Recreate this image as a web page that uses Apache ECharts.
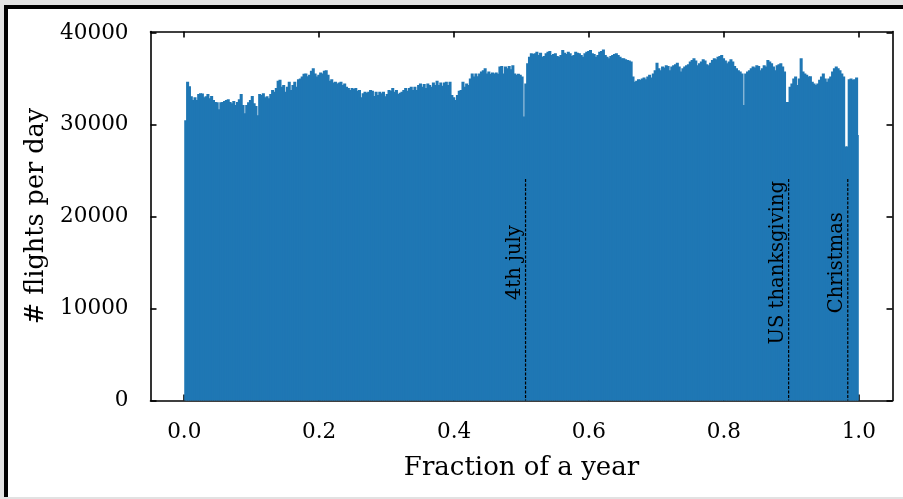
<!DOCTYPE html>
<html>
<head>
<meta charset="utf-8">
<script src="https://cdn.jsdelivr.net/npm/echarts@6/dist/echarts.min.js"></script>
<style>
  html, body { margin: 0; padding: 0; background: #e2e2e2; width: 903px; height: 499px; overflow: hidden; }
  #frame { position: absolute; left: 4px; top: 5px; width: 899px; height: 492px; box-sizing: border-box;
           border-left: 4px solid #000; border-top: 4px solid #000; background: #fff; }
  #chart { position: absolute; left: 0; top: 0; width: 903px; height: 499px; }
</style>
</head>
<body>
<div id="frame"></div>
<div id="chart"></div>
<script>
// Number of flights on each day of the year (one histogram bin per day)
const flightsPerDay = [
  30500, 34700, 34200, 33100, 32700, 33000, 32700, 33350, 33450, 33400,
  33000, 33100, 33350, 32900, 33150, 32700, 32500, 32450, 31700, 32450,
  32500, 32600, 32700, 32800, 32500, 32350, 32600, 32150, 32500, 32800,
  33350, 32150, 31250, 32150, 32450, 32700, 33150, 32350, 32050, 31050,
  33350, 33250, 33450, 33000, 33100, 32900, 33350, 33800, 33600, 34000,
  34800, 34900, 34150, 34350, 33600, 34150, 34700, 33800, 34350, 34700,
  34150, 34950, 35050, 35250, 35550, 35600, 35300, 35450, 35900, 36150,
  35600, 35250, 35450, 35700, 35600, 35900, 35950, 35450, 34800, 34950,
  34600, 34700, 34500, 34600, 34700, 34350, 34500, 34150, 34000, 33800,
  34000, 33900, 34000, 33700, 33800, 33000, 33450, 33600, 33500, 33600,
  33800, 33700, 33150, 33600, 33250, 33600, 33450, 33600, 33100, 33350,
  33800, 33700, 34000, 33600, 33800, 33350, 33500, 33600, 33800, 34000,
  33700, 34000, 34150, 33800, 34150, 33800, 34350, 34500, 34150, 34450,
  34000, 34500, 34350, 34150, 34600, 34350, 34800, 34350, 34600, 34250,
  34600, 34700, 34350, 34700, 33250, 33000, 32700, 33250, 33700, 33800,
  34700, 34150, 34500, 34350, 35050, 35600, 35250, 35600, 35300, 35600,
  35800, 35950, 36150, 35600, 35800, 35550, 35700, 35600, 35700, 35550,
  36350, 36400, 35600, 36350, 36150, 36400, 36050, 36500, 35600, 35450,
  35550, 35450, 35250, 30900, 34500, 36700, 37400, 37800, 37700, 37800,
  37950, 37600, 37850, 37400, 37500, 37800, 37950, 38050, 37600, 37700,
  37800, 37500, 37400, 37600, 38150, 37850, 37700, 37950, 37800, 37500,
  37600, 37950, 37850, 37800, 37600, 37400, 37800, 37950, 38050, 38150,
  37800, 37700, 37400, 37600, 37950, 38050, 38200, 37600, 37400, 37250,
  37500, 37600, 37700, 37800, 37600, 37400, 37250, 37250, 37150, 37050,
  37000, 36900, 35250, 34700, 34800, 34950, 34900, 35050, 35150, 34950,
  35250, 35450, 35150, 35600, 35950, 36750, 36150, 35950, 36350, 36250,
  36500, 36400, 35950, 36350, 36500, 36600, 36750, 36350, 35800, 36150,
  36350, 36500, 36600, 36900, 37050, 37250, 37000, 36500, 36700, 36900,
  37150, 37000, 36600, 36500, 36750, 37050, 37250, 37150, 37400, 37500,
  37600, 37250, 37000, 36700, 36900, 37150, 36900, 36400, 36150, 35950,
  35800, 35600, 32150, 35600, 35800, 35950, 36150, 36350, 36250, 36500,
  36400, 35950, 36150, 36500, 36350, 37050, 36900, 36700, 36350, 35950,
  36500, 36600, 36700, 36350, 35800, 32500, 32500, 34150, 34500, 35050,
  35250, 34350, 35050, 37250, 35800, 35600, 35450, 35250, 35300, 34700,
  34500, 34350, 34500, 34900, 35250, 35600, 35050, 34700, 35050, 35250,
  35800, 36150, 36350, 36150, 35950, 35600, 35250, 27650, 27650, 34950,
  35050, 34900, 34950, 35150, 28900
];

// Holidays marked with dashed lines (position as fraction of the year)
const holidayNames = ['4th july', 'US thanksgiving', 'Christmas'];
const holidayFractions = [0.506, 0.896, 0.9837];
const holidayLineTop = 24100;
const holidayLabelY = 15000;

// Tick labels
const xTicks = [0.0, 0.2, 0.4, 0.6, 0.8, 1.0];
const yTicks = [0, 10000, 20000, 30000, 40000];

const nBins = flightsPerDay.length;
const histData = flightsPerDay.map((v, i) => [i / nBins, (i + 1) / nBins, v]);
const holidayData = holidayFractions.map((f, i) => [f, holidayLineTop, holidayLabelY, holidayNames[i]]);

const FONT = 'DejaVu Serif';
const BLUE = '#1f77b4';

const chart = echarts.init(document.getElementById('chart'), null, { renderer: 'canvas' });

const tickStyle = { show: true, inside: true, length: 6, lineStyle: { color: '#000', width: 1.6 } };
const lineStyle = { show: true, onZero: false, lineStyle: { color: '#000', width: 1.6 } };

chart.setOption({
  backgroundColor: 'transparent',
  animation: false,
  grid: { left: 150.5, right: 10.5, top: 31.5, bottom: 98.5, containLabel: false },
  xAxis: [
    {
      type: 'value', min: -0.05, max: 1.05, position: 'bottom',
      axisLine: lineStyle,
      axisTick: Object.assign({ customValues: xTicks }, tickStyle),
      axisLabel: { customValues: xTicks, formatter: v => v.toFixed(1), fontFamily: FONT, fontSize: 21.5, color: '#000', margin: 21 },
      splitLine: { show: false },
      name: 'Fraction of a year', nameLocation: 'middle', nameGap: 55,
      nameTextStyle: { fontFamily: FONT, fontSize: 26, color: '#000' }
    },
    {
      type: 'value', min: -0.05, max: 1.05, position: 'top',
      axisLine: lineStyle,
      axisTick: Object.assign({ customValues: xTicks }, tickStyle),
      axisLabel: { show: false },
      splitLine: { show: false }
    }
  ],
  yAxis: [
    {
      type: 'value', min: 0, max: 40160, position: 'left',
      axisLine: lineStyle,
      axisTick: Object.assign({ customValues: yTicks }, tickStyle),
      axisLabel: { customValues: yTicks, formatter: v => String(v), fontFamily: FONT, fontSize: 21.5, color: '#000', margin: 22 },
      splitLine: { show: false },
      name: '# flights per day', nameLocation: 'middle', nameGap: 96, nameRotate: 90,
      nameTextStyle: { fontFamily: FONT, fontSize: 25.5, color: '#000' }
    },
    {
      type: 'value', min: 0, max: 40160, position: 'right',
      axisLine: lineStyle,
      axisTick: Object.assign({ customValues: yTicks }, tickStyle),
      axisLabel: { show: false },
      splitLine: { show: false }
    }
  ],
  series: [
    {
      type: 'custom',
      name: 'flights',
      xAxisIndex: 0, yAxisIndex: 0,
      data: histData,
      z: 2,
      renderItem: function (params, api) {
        const p0 = api.coord([api.value(0), api.value(2)]);
        const p1 = api.coord([api.value(1), 0]);
        // widen each bin slightly so neighbouring bins overlap without seams
        const extra = params.dataIndex < nBins - 1 ? 1.2 : 0;
        return {
          type: 'rect',
          shape: { x: p0[0], y: p0[1], width: p1[0] - p0[0] + extra, height: p1[1] - p0[1] },
          style: { fill: BLUE }
        };
      }
    },
    {
      type: 'custom',
      name: 'holidays',
      xAxisIndex: 0, yAxisIndex: 0,
      data: holidayData,
      z: 3,
      renderItem: function (params, api) {
        const x = api.value(0);
        const top = api.coord([x, api.value(1)]);
        const bottom = api.coord([x, 0]);
        const mid = api.coord([x, api.value(2)]);
        return {
          type: 'group',
          children: [
            {
              type: 'line',
              shape: { x1: top[0], y1: top[1], x2: bottom[0], y2: bottom[1] },
              style: { stroke: '#000', lineWidth: 1.2, lineDash: [3, 1.5] }
            },
            {
              type: 'text',
              x: mid[0] - 0.5, y: mid[1],
              rotation: Math.PI / 2,
              style: {
                text: holidayNames[params.dataIndex],
                fontFamily: FONT, fontSize: 19.5, fill: '#000',
                align: 'center', verticalAlign: 'bottom'
              }
            }
          ]
        };
      }
    }
  ]
});
</script>
</body>
</html>
